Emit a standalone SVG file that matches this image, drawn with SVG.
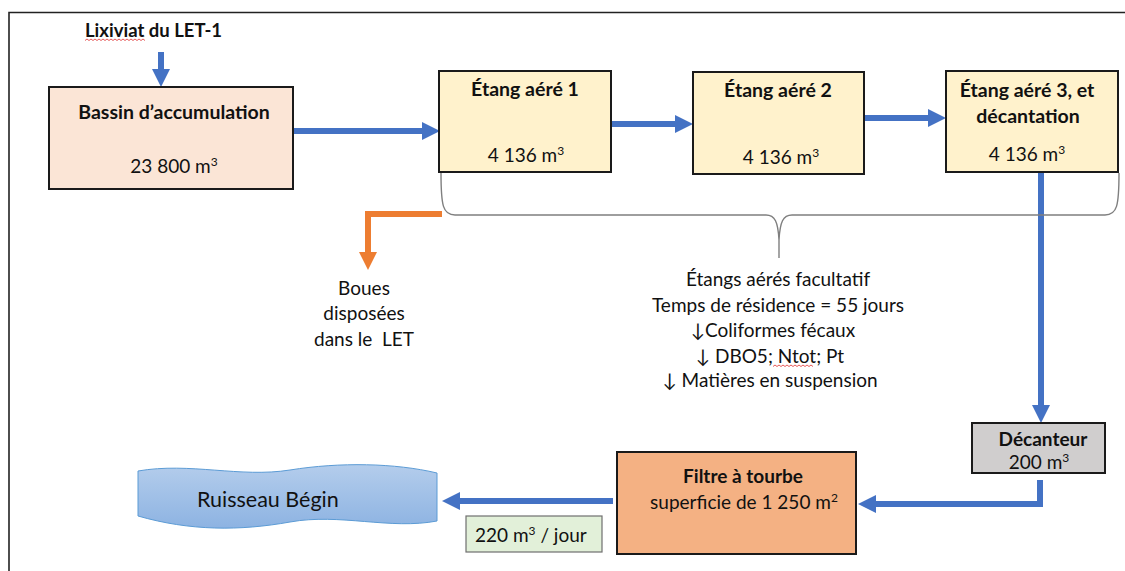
<svg xmlns="http://www.w3.org/2000/svg" width="1125" height="571" viewBox="0 0 1125 571">
<style>
text{font-family:Lato,"Open Sans","Liberation Sans",sans-serif;fill:#111;font-size:19px}
.b{font-weight:bold}
.box{stroke:#1a1a1a;stroke-width:2}
.blue{fill:none;stroke:#4472C4;stroke-width:6;marker-end:url(#ab)}
.orange{fill:none;stroke:#ED7D31;stroke-width:6;marker-end:url(#ao)}
.sq{fill:none;stroke:#e03030;stroke-width:0.8}
.sup{font-size:12px}
</style>
<defs>
<marker id="ab" markerUnits="userSpaceOnUse" markerWidth="18" markerHeight="18" viewBox="0 0 18 18" refX="0" refY="9" orient="auto"><path d="M0,0 L18,9 L0,18 z" fill="#4472C4"/></marker>
<marker id="ao" markerUnits="userSpaceOnUse" markerWidth="18" markerHeight="18" viewBox="0 0 18 18" refX="0" refY="9" orient="auto"><path d="M0,0 L18,9 L0,18 z" fill="#ED7D31"/></marker>
<linearGradient id="wg" x1="0" y1="0" x2="0" y2="1"><stop offset="0" stop-color="#B4CDEC"/><stop offset="1" stop-color="#8DB3E2"/></linearGradient>
</defs>
<rect width="1125" height="571" fill="#fff"/>
<path d="M9,571 V12.5 H1125" fill="none" stroke="#222" stroke-width="1.6"/>

<g id="connectors">
<path class="blue" d="M161,52 V69"/>
<path class="blue" d="M294,131 H422"/>
<path class="blue" d="M612,124 H675"/>
<path class="blue" d="M865,118 H928"/>
<path class="blue" d="M1041,172 V405"/>
<path class="blue" d="M1040,480 V504 H876"/>
<path class="blue" d="M613,501 H460"/>
<path class="orange" d="M442,214 H368 V252"/>
<path d="M441,173 C441,206 443,215 455,215 L766,215 C775,215 778,222 779,240 L779,258 M779,240 C780,222 783,215 792,215 L1105,215 C1117,215 1119,206 1119,173" fill="none" stroke="#7f7f7f" stroke-width="1.4"/>
</g>

<g id="lixiviat">
<text x="85" y="37" class="b" style="font-size:18.5px">Lixiviat du LET-1</text>
<path class="sq" d="M85,40.5 l2,-1.5 l2,1.5 l2,-1.5 l2,1.5 l2,-1.5 l2,1.5 l2,-1.5 l2,1.5 l2,-1.5 l2,1.5 l2,-1.5 l2,1.5 l2,-1.5 l2,1.5 l2,-1.5 l2,1.5 l2,-1.5 l2,1.5 l2,-1.5 l2,1.5 l2,-1.5 l2,1.5 l2,-1.5 l2,1.5 l2,-1.5 l2,1.5 l2,-1.5 l2,1.5 l2,-1.5 l2,1.5"/>
</g>

<g id="bassin">
<rect class="box" x="49" y="87" width="244" height="102" fill="#FBE5D6"/>
<text x="174" y="119" class="b" text-anchor="middle" style="font-size:19.5px">Bassin d’accumulation</text>
<text x="174" y="173" text-anchor="middle">23 800 m<tspan class="sup" dy="-7">3</tspan></text>
</g>

<g id="etang1">
<rect class="box" x="439" y="71" width="172" height="101" fill="#FFF2CC"/>
<text x="525" y="96" class="b" text-anchor="middle" style="font-size:19.5px">Étang aéré 1</text>
<text x="526" y="162" text-anchor="middle">4 136 m<tspan class="sup" dy="-7">3</tspan></text>
</g>

<g id="etang2">
<rect class="box" x="693" y="72" width="171" height="102" fill="#FFF2CC"/>
<text x="778" y="97" class="b" text-anchor="middle" style="font-size:19.5px">Étang aéré 2</text>
<text x="781" y="164" text-anchor="middle">4 136 m<tspan class="sup" dy="-7">3</tspan></text>
</g>

<g id="etang3">
<rect class="box" x="946" y="71" width="172" height="101" fill="#FFF2CC"/>
<text x="1027" y="97" class="b" text-anchor="middle" style="font-size:19.5px">Étang aéré 3, et</text>
<text x="1028" y="123" class="b" text-anchor="middle" style="font-size:19.5px">décantation</text>
<text x="1027" y="161" text-anchor="middle">4 136 m<tspan class="sup" dy="-7">3</tspan></text>
</g>

<g id="boues">
<text x="364" y="295" text-anchor="middle">Boues</text>
<text x="364" y="320" text-anchor="middle">disposées</text>
<text x="364" y="346" text-anchor="middle" xml:space="preserve">dans le  LET</text>
</g>

<g id="etangs-note">
<text x="778" y="286" text-anchor="middle">Étangs aérés facultatif</text>
<text x="778" y="312" text-anchor="middle">Temps de résidence = 55 jours</text>
<text x="773" y="337" text-anchor="middle">↓Coliformes fécaux</text>
<text x="770" y="363" text-anchor="middle">↓ DBO5; Ntot; Pt</text>
<text x="770" y="387" text-anchor="middle">↓ Matières en suspension</text>
<path class="sq" d="M773,366.5 l2,-1.5 l2,1.5 l2,-1.5 l2,1.5 l2,-1.5 l2,1.5 l2,-1.5 l2,1.5 l2,-1.5 l2,1.5 l2,-1.5 l2,1.5 l2,-1.5 l2,1.5 l2,-1.5 l2,1.5 l2,-1.5 l2,1.5 l2,-1.5 l2,1.5"/>
</g>

<g id="decanteur">
<rect class="box" x="972" y="423" width="133" height="50" fill="#D0CECE"/>
<text x="1043" y="446" class="b" text-anchor="middle">Décanteur</text>
<text x="1039" y="469" text-anchor="middle">200 m<tspan class="sup" dy="-7">3</tspan></text>
</g>

<g id="filtre">
<rect class="box" x="617" y="452" width="239" height="102" fill="#F4B183"/>
<text x="743" y="483" class="b" text-anchor="middle">Filtre à tourbe</text>
<text x="744" y="509" text-anchor="middle">superficie de 1 250 m<tspan class="sup" dy="-7">2</tspan></text>
</g>

<g id="ruisseau">
<path d="M138,471 C190,462 240,478 290,470 S395,463 437,473 L437,521 C390,530 340,513 290,522 S190,531 138,516 Z" fill="url(#wg)" stroke="#5B9BD5" stroke-width="1"/>
<text x="197" y="507" style="font-size:21.5px">Ruisseau Bégin</text>
</g>

<g id="debit">
<rect x="466" y="516" width="136" height="36" fill="#E2F0D9" stroke="#6f6f6f" stroke-width="1.2"/>
<text x="475" y="542">220 m<tspan class="sup" dy="-7">3</tspan><tspan dy="7"> / jour</tspan></text>
</g>
</svg>
